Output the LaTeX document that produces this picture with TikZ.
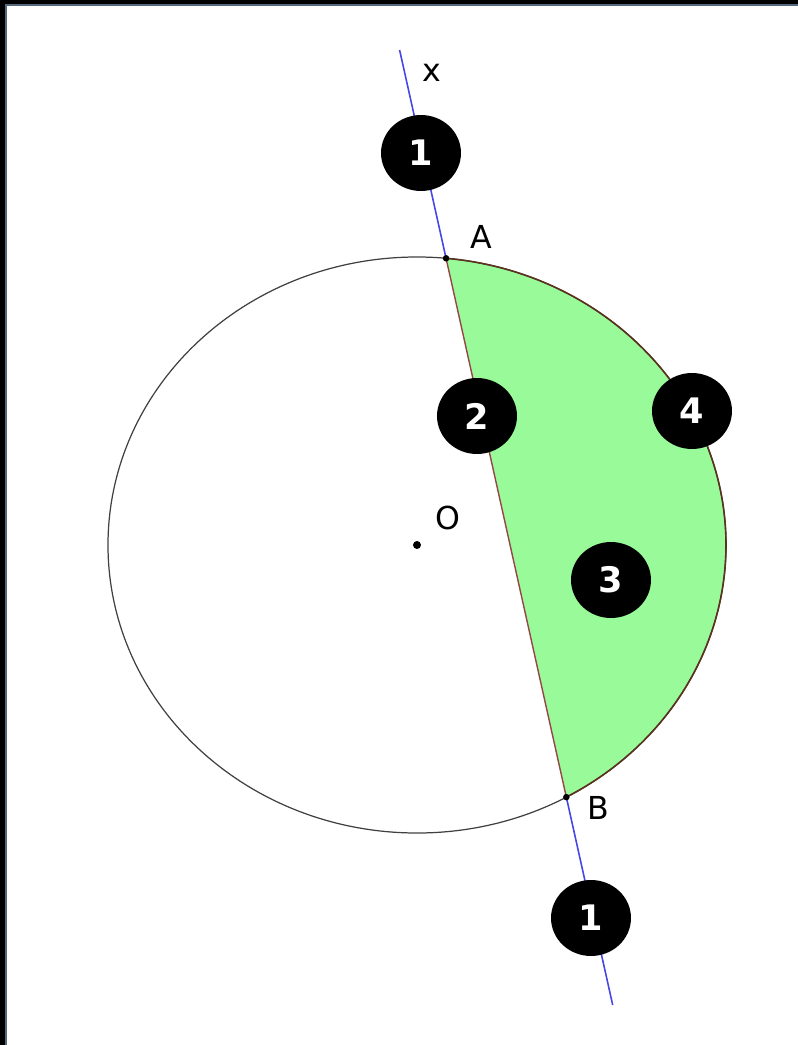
\documentclass[tikz,border=0pt]{standalone}
\usepackage{fontspec}
\setmainfont{DejaVu Sans}
\usepackage{tikz}
\usetikzlibrary{positioning,shapes.geometric}
\definecolor{segfill}{RGB}{152,250,152}
\definecolor{lineblue}{RGB}{70,70,230}
\definecolor{chordred}{RGB}{150,70,70}
\definecolor{arcbrown}{RGB}{90,50,30}
\definecolor{frameedge}{RGB}{85,105,125}

\begin{document}
\begin{tikzpicture}[x=0.02cm,y=-0.02cm,
  badge/.style={ellipse,fill=black,text=white,inner sep=0pt,
    minimum width=1.6cm,minimum height=1.52cm,
    font=\fontsize{20}{20}\selectfont\bfseries},
  lbl/.style={font=\fontsize{18}{18}\selectfont,inner sep=0pt},
  pt/.style={circle,fill=black,inner sep=0pt,minimum size=0.16cm}
]
\useasboundingbox (0,0) rectangle (798,1045);
% frame
\fill[black] (0,0) rectangle (798,5);
\fill[black] (0,0) rectangle (6,1045);
\draw[frameedge,line width=0.8pt] (6,1045) -- (6,5) -- (798,5);

\coordinate (O) at (417,545);
\path (O) ++(-84.6:309 and 288) coordinate (A);
\path (O) ++(61.1:309 and 288) coordinate (B);
\coordinate (xtop) at (399.6,50);
\coordinate (xbot) at (612.7,1005);

% segment
\fill[segfill] (A) arc[start angle=-84.6,end angle=61.1,x radius=309,y radius=288] -- cycle;
\draw[black!75,line width=0.7pt] (O) ellipse[x radius=309,y radius=288];
\draw[arcbrown,line width=0.9pt] (A) arc[start angle=-84.6,end angle=61.1,x radius=309,y radius=288];

% line x
\draw[lineblue,line width=0.9pt] (xtop) -- (A);
\draw[chordred,line width=0.8pt] (A) -- (B);
\draw[lineblue,line width=0.9pt] (B) -- (xbot);

\node[pt] (ptO) at (O) {};
\node[pt,minimum size=0.13cm] (ptA) at (A) {};
\node[pt,minimum size=0.13cm] (ptB) at (B) {};

\node[lbl] (labx) at (432,73) {x};
\node[lbl] (labA) at (481,237) {A};
\node[lbl] (labO) at (448,518) {O};
\node[lbl] (labB) at (598,808) {B};

\node[badge] (b1top) at (421,153) {1};
\node[badge] (b2) at (477,416) {2};
\node[badge] (b4) at (692,411) {4};
\node[badge] (b3) at (611,580) {3};
\node[badge] (b1bot) at (591,918) {1};
\end{tikzpicture}
\end{document}
